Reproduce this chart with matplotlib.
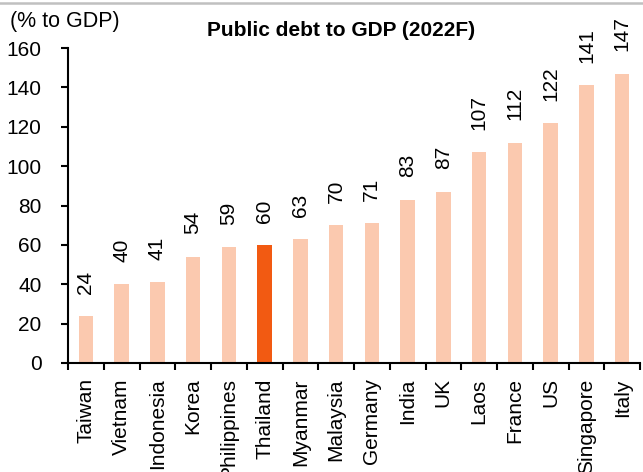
import matplotlib.pyplot as plt
import matplotlib.lines as mlines
import numpy as np

plt.rcParams['font.family'] = ['Liberation Sans', 'DejaVu Sans']

countries = ['Taiwan', 'Vietnam', 'Indonesia', 'Korea', 'Philippines', 'Thailand',
             'Myanmar', 'Malaysia', 'Germany', 'India', 'UK', 'Laos', 'France',
             'US', 'Singapore', 'Italy']
debt = [24, 40, 41, 54, 59, 60, 63, 70, 71, 83, 87, 107, 112, 122, 141, 147]
highlight = 'Thailand'

colors = ['#F25A12' if c == highlight else '#FBC9AF' for c in countries]
x = np.arange(len(countries))

fig = plt.figure(figsize=(6.43, 4.72), dpi=100)
ax = fig.add_axes([68 / 643, 1 - 363 / 472, 572 / 643, 315 / 472])

ax.bar(x, debt, width=0.4, color=colors)
for xi, v in zip(x, debt):
    ax.annotate(f'{v}', (xi, v), xytext=(0, 16), textcoords='offset points',
                rotation=90, ha='center', va='bottom', fontsize=15)

ax.set_xlim(-0.5, len(countries) - 0.5)
ax.set_ylim(0, 160)
ax.set_yticks(range(0, 161, 20))
ax.set_xticks(x)
ax.set_xticklabels(countries, rotation=90, fontsize=15, va='top')
ax.set_xticks(np.arange(-0.5, len(countries), 1), minor=True)
ax.tick_params(axis='x', which='major', length=0, pad=11)
ax.tick_params(axis='x', which='minor', length=5, width=1.5, direction='out')
ax.tick_params(axis='y', length=5, width=1.5, direction='out', labelsize=15, pad=14)

for s in ['top', 'right']:
    ax.spines[s].set_visible(False)
for s in ['left', 'bottom']:
    ax.spines[s].set_linewidth(1.5)

fig.text(341 / 643, 1 - 31 / 472, 'Public debt to GDP (2022F)', ha='center',
         va='center', fontsize=15, fontweight='bold')
fig.text(10 / 643, 1 - 21 / 472, '(% to GDP)', ha='left', va='center', fontsize=15.5)

fig.add_artist(mlines.Line2D([0, 1], [1 - 3 / 472, 1 - 3 / 472],
                             color='#C0C0C0', linewidth=1.8, transform=fig.transFigure))

fig.savefig('out.png', dpi=100)
